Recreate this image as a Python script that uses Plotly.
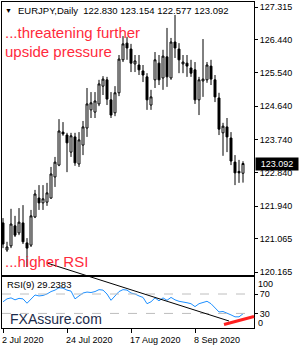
import plotly.graph_objects as go

dates = ["2020-07-02","2020-07-03","2020-07-06","2020-07-07","2020-07-08","2020-07-09","2020-07-10",
         "2020-07-13","2020-07-14","2020-07-15","2020-07-16","2020-07-17","2020-07-20","2020-07-21",
         "2020-07-22","2020-07-23","2020-07-24","2020-07-27","2020-07-28","2020-07-29","2020-07-30",
         "2020-07-31","2020-08-03","2020-08-04","2020-08-05","2020-08-06","2020-08-07","2020-08-10",
         "2020-08-11","2020-08-12","2020-08-13","2020-08-14","2020-08-17","2020-08-18","2020-08-19",
         "2020-08-20","2020-08-21","2020-08-24","2020-08-25","2020-08-26","2020-08-27","2020-08-28",
         "2020-08-31","2020-09-01","2020-09-02","2020-09-03","2020-09-04","2020-09-07","2020-09-08",
         "2020-09-09","2020-09-10","2020-09-11","2020-09-14","2020-09-15","2020-09-16","2020-09-17",
         "2020-09-18","2020-09-21","2020-09-22","2020-09-23","2020-09-24"]

open_ = [121.49,120.76,120.87,121.41,121.22,121.49,120.95,120.89,121.65,122.16,
         122.03,122.05,122.16,122.73,123.05,123.94,123.86,123.40,123.81,123.08,
         123.59,124.05,124.54,124.48,124.70,125.18,125.35,124.81,124.46,125.00,
         125.89,126.34,126.18,125.78,125.75,125.59,125.43,124.67,125.35,125.80,
         125.40,125.97,125.40,126.37,126.18,125.78,125.80,125.67,125.62,124.81,
         125.32,125.35,125.72,125.35,124.86,123.92,124.08,123.78,123.13,122.88,122.830]
high = [121.62,120.98,121.87,121.68,121.89,121.97,121.08,121.84,122.38,122.51,
        122.51,122.57,123.00,123.27,124.29,124.21,123.92,123.92,123.92,123.94,
        124.24,125.13,125.02,125.02,125.35,125.45,125.43,125.02,125.18,126.02,
        126.53,126.51,126.32,126.02,126.02,125.75,125.53,125.08,126.10,126.02,
        126.16,126.75,126.48,127.10,126.34,126.02,126.02,125.89,125.83,125.43,
        126.45,125.83,125.89,125.48,125.00,124.19,124.32,123.94,123.32,123.19,123.154]
low = [120.81,120.71,120.81,121.11,121.16,120.92,120.30,120.84,121.62,121.84,
       121.84,121.95,122.14,122.46,123.02,123.84,122.86,123.27,123.03,123.00,
       123.32,123.81,124.32,124.32,124.64,124.94,124.67,124.32,124.37,124.91,
       125.83,125.89,125.56,125.56,125.48,125.29,124.54,124.54,125.13,125.21,
       125.08,125.16,125.35,125.94,125.53,125.53,125.43,125.43,124.70,124.40,
       124.89,125.27,125.21,124.75,123.86,123.30,123.40,123.05,122.51,122.57,122.577]
close = [120.92,120.84,121.46,121.16,121.51,120.98,120.81,121.68,122.27,122.03,
         122.14,122.30,122.81,123.13,123.97,123.89,123.65,123.84,123.11,123.73,
         124.08,124.70,124.73,124.78,125.24,125.37,124.83,124.40,125.00,125.91,
         126.32,126.21,125.80,125.86,125.62,125.48,124.81,124.89,125.89,125.35,
         125.99,125.43,126.37,126.21,125.89,125.83,125.72,125.53,124.81,125.35,
         125.37,125.75,125.37,124.89,124.02,124.10,123.81,123.16,122.84,122.84,123.092]
rsi = [54,60,62,58,61,60,51,59,68,66,
       67,70,75,78,83,82,78,76,60,66,
       72,74,73,75,79,78,70,57,67,75,
       79,78,72,70,66,63,50,54,62,56,
       62,57,63,58,55,54,52,50,44,50,
       52,55,50,42,33,34,31,27,23,23,29.2383]

price_ticks = [127.315, 126.440, 125.540, 124.640, 123.740, 122.840, 121.940, 121.065, 120.165]
rsi_ticks = [30, 70]
rsi_levels = [30, 70]
date_ticks = ["2020-07-02", "2020-07-24", "2020-08-17", "2020-09-08"]
date_labels = ["2 Jul 2020", "24 Jul 2020", "17 Aug 2020", "8 Sep 2020"]
last_price = 123.092
rsi_last = 29.2383

W, H = 300, 350
ML, MR, MT, MB = 2, 46, 2, 22
PW, PH = W - ML - MR, H - MT - MB
def fx(px): return (px - ML) / PW
def fy(py): return (H - MB - py) / PH

FONT = "Liberation Sans, Arial, sans-serif"
RED = "#FF2A3C"

fig = go.Figure()
fig.add_trace(go.Candlestick(
    x=dates, open=open_, high=high, low=low, close=close,
    increasing=dict(fillcolor="white", line=dict(color="black", width=1)),
    decreasing=dict(fillcolor="black", line=dict(color="black", width=1)),
    whiskerwidth=0, xaxis="x", yaxis="y", showlegend=False, hoverinfo="skip"))
fig.add_trace(go.Scatter(
    x=dates, y=rsi, mode="lines", line=dict(color="#1E90FF", width=1),
    xaxis="x2", yaxis="y2", showlegend=False, hoverinfo="skip"))

xr = [-0.25, 62.75]
fig.update_layout(
    width=W, height=H, margin=dict(l=ML, r=MR, t=MT, b=MB),
    paper_bgcolor="white", plot_bgcolor="white",
    font=dict(family=FONT, size=9, color="black"),
    xaxis=dict(type="category", domain=[0, 1], range=xr, anchor="y",
               showline=True, mirror=True, linecolor="black", linewidth=1,
               showgrid=False, showticklabels=False, ticks="",
               rangeslider=dict(visible=False), categoryorder="array", categoryarray=dates),
    yaxis=dict(domain=[fy(274.5), 1], range=[120.098, 127.450], side="right",
               tickmode="array", tickvals=price_ticks,
               ticktext=[f"{v:.3f}" for v in price_ticks],
               ticks="outside", ticklen=3, tickcolor="black",
               showline=True, mirror=True, linecolor="black", linewidth=1,
               showgrid=False, zeroline=False, anchor="x",
               tickfont=dict(size=9, color="black")),
    xaxis2=dict(type="category", domain=[0, 1], range=xr, anchor="y2", matches="x",
                showline=True, mirror=True, linecolor="black", linewidth=1,
                showgrid=False, tickmode="array", tickvals=date_ticks,
                ticktext=["" for _ in date_ticks], ticks="outside", ticklen=4,
                tickcolor="black", showticklabels=False,
                categoryorder="array", categoryarray=dates),
    yaxis2=dict(domain=[0, fy(277)], range=[0, 105], side="right",
                tickmode="array", tickvals=rsi_ticks, ticktext=[str(v) for v in rsi_ticks],
                ticks="outside", ticklen=3, tickcolor="black",
                showline=True, mirror=True, linecolor="black", linewidth=1,
                showgrid=False, zeroline=False, anchor="x2",
                tickfont=dict(size=9, color="black")),
)

shapes = []
for lv in rsi_levels:
    shapes.append(dict(type="line", xref="x2 domain", yref="y2", x0=0, x1=1, y0=lv, y1=lv,
                       line=dict(color="#BEBEBE", width=1, dash="dash")))
shapes.append(dict(type="line", xref="paper", yref="paper",
                   x0=fx(47), y0=fy(263), x1=fx(229), y1=fy(321),
                   line=dict(color="black", width=1)))
shapes.append(dict(type="line", xref="paper", yref="paper",
                   x0=fx(224), y0=fy(324.5), x1=fx(254), y1=fy(316.5),
                   line=dict(color="#FF2020", width=3)))
fig.update_layout(shapes=shapes)

ann = []
def text(px, py, s, size, color="black", anchor="left"):
    ann.append(dict(xref="paper", yref="paper", x=fx(px), y=fy(py), text=s,
                    showarrow=False, xanchor=anchor, yanchor="middle",
                    font=dict(family=FONT, size=size, color=color), borderpad=0))

text(4, 11, "▼", 7)
text(17, 11, f"EURJPY,Daily  {open_[-1]:.3f} {high[-1]:.3f} {low[-1]:.3f} {close[-1]:.3f}", 9.5)
text(4, 32, "...threatening further", 15, RED)
text(4, 51, "upside pressure", 15, RED)
text(4, 261, "...higher RSI", 15, RED)
text(6, 284, f"RSI(9) {rsi_last:.4f}", 9.5)
text(9, 319, "FXAssure.com", 14, "#1C2B4B")
text(257, 284, "100", 9)
text(257, 323, "0", 9)

for d, lab in zip(date_ticks, date_labels):
    ann.append(dict(xref="x2", yref="paper", x=d, y=fy(340), text=lab, showarrow=False,
                    xanchor="left", yanchor="middle", xshift=-2,
                    font=dict(family=FONT, size=9, color="black"), borderpad=0))

ann.append(dict(xref="paper", yref="y", x=1, y=last_price, text=f"{last_price:.3f}",
                showarrow=False, xanchor="left", yanchor="middle", xshift=1,
                bgcolor="black", font=dict(family=FONT, size=9, color="white"),
                borderpad=1, width=40, align="center"))
fig.update_layout(annotations=ann)

fig.write_html("out.html")
